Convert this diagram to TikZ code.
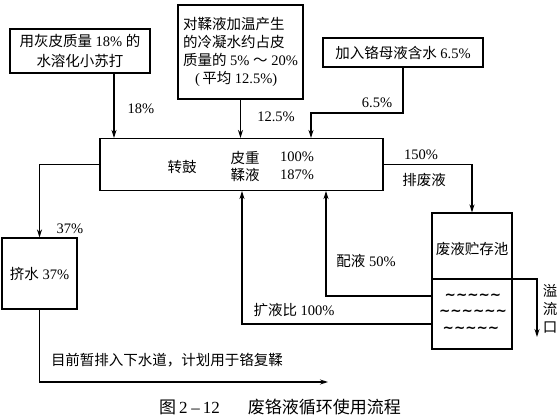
\documentclass[tikz,border=0pt]{standalone}
\usepackage{fontspec}
\setmainfont{Liberation Serif}
\newfontfamily\cjk{Noto Sans CJK SC}
\newfontfamily\dv{DejaVu Sans}
\usetikzlibrary{arrows.meta}
\begin{document}
\begin{tikzpicture}[x=1pt,y=-1pt,
  every node/.style={font=\fontsize{14.5}{18}\selectfont, inner sep=0pt},
  box/.style={draw, line width=1.1pt},
  arr/.style={line width=1.1pt, -{Stealth[length=8pt,width=5pt]}},
  ln/.style={line width=1.1pt},
  wave/.style={font=\dv\bfseries\fontsize{13.5}{14}\selectfont}]
\useasboundingbox[fill=white] (0,0) rectangle (558,418);

% boxes
\node[box, minimum width=140pt, minimum height=44pt, align=center,
      font=\fontsize{14.5}{20}\selectfont] (soda) at (80,51)
      {{\cjk 用灰皮质量} 18\% {\cjk 的}\\{\cjk 水溶化小苏打}};
\node[box, minimum width=125pt, minimum height=94pt, align=left] (cond) at (240.5,52)
      {{\cjk 对鞣液加温产生}\\{\cjk 的冷凝水约占皮}\\{\cjk 质量的} 5\% {\cjk ～} 20\%\\\hspace{12pt}(\,{\cjk 平均} 12.5\%)};
\node[box, minimum width=160pt, minimum height=29pt] (chrome) at (403,52.5)
      {{\cjk 加入铬母液含水} 6.5\%};
\node[box, minimum width=283pt, minimum height=52pt] (drum) at (241.5,164.5) {};
\node (drumlbl) at (182,167) {\cjk 转鼓};
\node (skin) at (245,158) {\cjk 皮重};
\node (liq) at (245,175) {\cjk 鞣液};
\node (skinv) at (297,157) {100\%};
\node (liqv) at (297,175) {187\%};
\node[box, minimum width=75pt, minimum height=71pt] (squeeze) at (39.5,273.5)
      {{\cjk 挤水} 37\%};
\node[box, minimum width=80pt, minimum height=136pt] (tank) at (472,281) {};
\node (tanklbl) at (472,249) {\cjk 废液贮存池};
\node[wave] (w1) at (473,297) {\char`\~\char`\~\char`\~\char`\~\char`\~};
\node[wave] (w2) at (473,313) {\char`\~\char`\~\char`\~\char`\~\char`\~\char`\~};
\node[wave] (w3) at (471,330) {\char`\~\char`\~\char`\~\char`\~\char`\~};

% helper coordinates
\coordinate (x114) at (114,0);
\coordinate (bend3) at (311,113);
\coordinate (drain) at (328,382);
\coordinate (mix) at (326,296);
\coordinate (exp) at (242,324);
\coordinate (water) at (0,279);
\coordinate (overflow) at (537,337);

% connectors
\draw[arr] (soda.south -| x114) -- (drum.north -| x114);
\draw[arr] (cond.south) -- (cond.south |- drum.north);
\draw[arr] (chrome.south) |- (bend3) -- (bend3 |- drum.north);
\draw[arr] (drum.east) -| (tank.north);
\draw[arr] (drum.west) -| (squeeze.north);
\draw[arr] (squeeze.south) |- (drain);
\draw[arr] (tank.west |- mix) -| (drum.south -| mix);
\draw[arr] (tank.west |- exp) -| (drum.south -| exp);
\draw[ln] (tank.west |- water) -- (tank.east |- water);
\draw[arr] (tank.east |- water) -| (overflow);

% labels
\node (l18) at (141,109) {18\%};
\node (l125) at (276,117) {12.5\%};
\node (l65) at (377,103) {6.5\%};
\node (l150) at (421,155) {150\%};
\node (lwaste) at (424,180) {\cjk 排废液};
\node (l37) at (70,229) {37\%};
\node (lmix) at (366,261) {{\cjk 配液} 50\%};
\node (lexp) at (294,310) {{\cjk 扩液比} 100\%};
\node[align=center] (lover) at (550,309) {{\cjk 溢}\\{\cjk 流}\\{\cjk 口}};
\node (ldrain) at (167,360) {\cjk 目前暂排入下水道，计划用于铬复鞣};
\node[font=\fontsize{17}{18}\selectfont] (cap) at (280,407)
      {{\cjk 图}\hspace{3pt}2\hspace{4pt}–\hspace{3pt}12\hspace{28pt}{\cjk 废铬液循环使用流程}};
\end{tikzpicture}
\end{document}
